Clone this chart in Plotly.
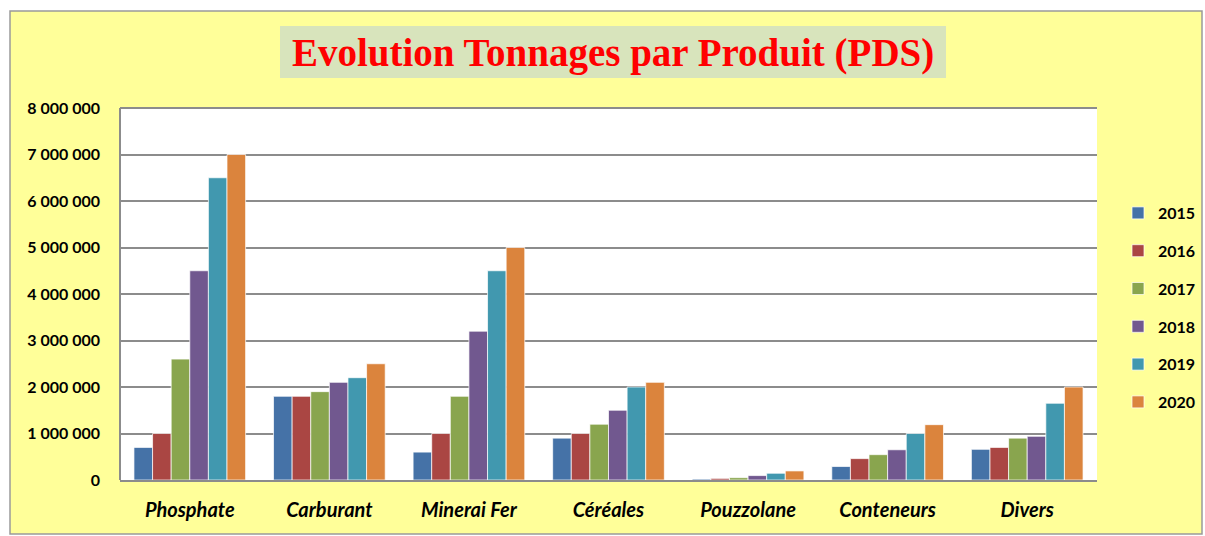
import plotly.graph_objects as go

categories = ["Phosphate", "Carburant", "Minerai Fer", "Céréales", "Pouzzolane", "Conteneurs", "Divers"]
years = ["2015", "2016", "2017", "2018", "2019", "2020"]
v2015 = [700000, 1800000, 600000, 900000, 20000, 290000, 660000]
v2016 = [1000000, 1800000, 1000000, 1000000, 35000, 460000, 700000]
v2017 = [2600000, 1900000, 1800000, 1200000, 50000, 545000, 900000]
v2018 = [4500000, 2100000, 3200000, 1500000, 95000, 650000, 940000]
v2019 = [6500000, 2200000, 4500000, 2000000, 145000, 1000000, 1650000]
v2020 = [7000000, 2500000, 5000000, 2100000, 195000, 1190000, 2000000]
series = [v2015, v2016, v2017, v2018, v2019, v2020]
colors = ["#4572A7", "#AA4643", "#89A54E", "#71588F", "#4198AF", "#DB843D"]
y_ticks = [0, 1000000, 2000000, 3000000, 4000000, 5000000, 6000000, 7000000, 8000000]

W, H = 1205, 536
L, R, T, B = 120, 1097, 108, 480  # plot area in window pixels

def px(x):
    return (x - L) / (R - L)

def py(y):
    return (B - y) / (B - T)

fig = go.Figure()
for yr, vals, c in zip(years, series, colors):
    fig.add_trace(go.Bar(
        x=categories, y=vals, name=yr, legendgroup=yr,
        marker=dict(color=c, line=dict(color="rgba(255,255,255,0.7)", width=1)),
    ))

shapes = [
    dict(type="rect", xref="paper", yref="paper", x0=px(10), x1=px(1202), y0=py(534), y1=py(11),
         fillcolor="#FFFF99", line=dict(color="#9A9A9A", width=1.5), layer="below"),
    dict(type="rect", xref="paper", yref="paper", x0=0, x1=1, y0=0, y1=1,
         fillcolor="white", line=dict(width=0), layer="below"),
    dict(type="rect", xref="paper", yref="paper", x0=px(280), x1=px(946), y0=py(78), y1=py(26),
         fillcolor="#D8E4BC", line=dict(width=0), layer="below"),
    dict(type="line", xref="paper", yref="paper", x0=0, x1=1, y0=1, y1=1,
         line=dict(color="#8C8C8C", width=2)),
    dict(type="line", xref="paper", yref="paper", x0=0, x1=0, y0=0, y1=1,
         line=dict(color="#8C8C8C", width=2)),
]

fig.update_layout(
    width=W, height=H,
    margin=dict(l=L, r=W - R, t=T, b=H - B, pad=0, autoexpand=False),
    paper_bgcolor="white",
    plot_bgcolor="rgba(0,0,0,0)",
    barmode="group", bargap=0.2, bargroupgap=0.0,
    separators=", ",
    shapes=shapes,
    annotations=[dict(
        text="<b>Evolution Tonnages par Produit (PDS)</b>",
        xref="paper", yref="paper", x=px(613), y=py(53), xanchor="center", yanchor="middle",
        showarrow=False, font=dict(family="Liberation Serif, serif", size=39, color="#FF0000"),
    )],
    legend=dict(
        x=px(1118), y=py(196), xanchor="left", yanchor="top",
        font=dict(family="Lato, sans-serif", size=16, color="black", weight="bold"),
        tracegroupgap=14, bgcolor="rgba(0,0,0,0)", itemwidth=30,
    ),
    showlegend=True,
)
fig.update_xaxes(
    showgrid=False, showline=True, linecolor="#8C8C8C", linewidth=2,
    ticks="", ticklabelstandoff=11, automargin=False,
    tickfont=dict(family="Lato, sans-serif", size=20, color="black", weight="bold", style="italic"),
)
fig.update_yaxes(
    range=[0, 8000000], tickvals=y_ticks, tickformat=",d",
    showgrid=True, gridcolor="#8C8C8C", gridwidth=1.5, zeroline=False,
    ticks="", ticklabelstandoff=19, automargin=False,
    tickfont=dict(family="Lato, sans-serif", size=16, color="black", weight="bold"),
)
fig.write_html(
    "out.html",
    config={"displayModeBar": False},
    post_script="document.body.style.margin='0';document.body.style.overflow='hidden';",
)
